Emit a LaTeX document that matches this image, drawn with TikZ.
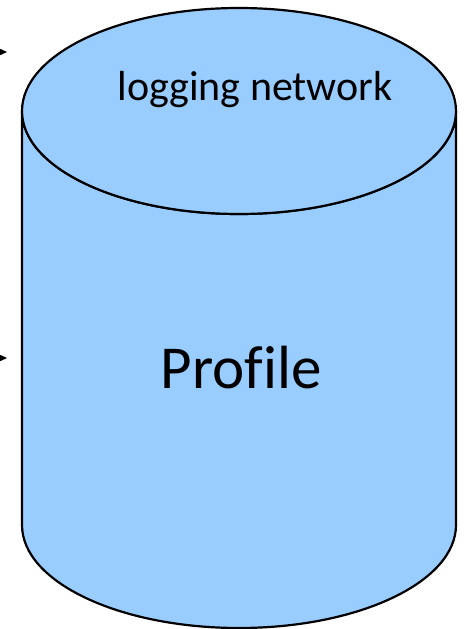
\documentclass[tikz,border=0pt]{standalone}
\usepackage{fontspec}
\setmainfont{Carlito}
\usetikzlibrary{arrows.meta}
\definecolor{cylblue}{HTML}{99CCFF}
\begin{document}
\begin{tikzpicture}[x=1pt,y=-1pt,
  cyl/.style={fill=cylblue,draw=black,line width=2.2pt},
  lbl/.style={inner sep=0pt,anchor=base},
  tip/.style={-{Triangle[length=9pt,width=8pt]},line width=1pt}]
\useasboundingbox (0,0) rectangle (464,629);
\clip (0,0) rectangle (464,629);
% body
\path[cyl] (22,111) -- (22,525) arc[start angle=180,end angle=360,x radius=217,y radius=-103] -- (456,111) arc[start angle=0,end angle=180,x radius=217,y radius=103] -- cycle;
% top ellipse
\path[cyl] (239,111) ellipse [x radius=217,y radius=103];
\node[lbl] (top) at (255,100) {\fontsize{42}{48}\selectfont logging network};
\node[lbl] (prof) at (241,388) {\fontsize{61}{68}\selectfont\addfontfeatures{Ligatures=NoCommon}Profile};
\coordinate (a1) at (-10,52);
\coordinate (b1) at (7,52);
\coordinate (a2) at (-10,358);
\coordinate (b2) at (7,358);
\draw[tip] (a1) -- (b1);
\draw[tip] (a2) -- (b2);
\end{tikzpicture}
\end{document}
